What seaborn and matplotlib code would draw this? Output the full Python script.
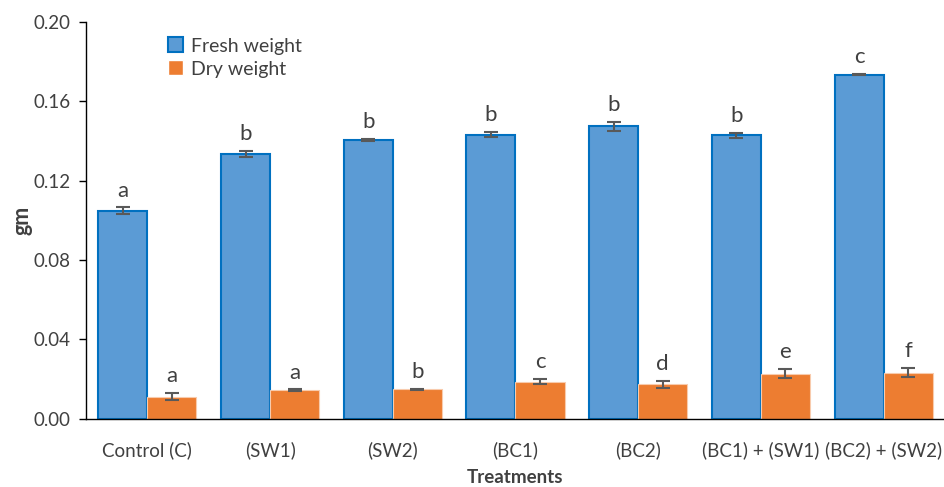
import matplotlib
matplotlib.use("Agg")
import matplotlib.pyplot as plt
import seaborn as sns
import pandas as pd

treatments = ["Control (C)", "(SW1)", "(SW2)", "(BC1)", "(BC2)", "(BC1) + (SW1)", "(BC2) + (SW2)"]
fresh = [0.1049, 0.1335, 0.1406, 0.1432, 0.1473, 0.1429, 0.1735]
fresh_err = [0.0016, 0.0015, 0.0004, 0.0012, 0.0022, 0.0013, 0.0004]
fresh_letters = ["a", "b", "b", "b", "b", "b", "c"]
dry = [0.0112, 0.0143, 0.0149, 0.0188, 0.0173, 0.0228, 0.0233]
dry_err = [0.0016, 0.0005, 0.0003, 0.0013, 0.0016, 0.0024, 0.0022]
dry_letters = ["a", "a", "b", "c", "d", "e", "f"]

df = pd.DataFrame({
    "Treatments": treatments * 2,
    "gm": fresh + dry,
    "type": ["Fresh weight"] * 7 + ["Dry weight"] * 7,
})

sns.set_style("white")
plt.rcParams["font.family"] = ["Lato", "DejaVu Sans"]
text_col = "#404040"

fig, ax = plt.subplots(figsize=(9.45, 4.87), dpi=100)
fig.subplots_adjust(left=0.091, right=1.0, top=0.955, bottom=0.14)

sns.barplot(data=df, x="Treatments", y="gm", hue="type",
            palette={"Fresh weight": "#5b9bd5", "Dry weight": "#ed7d31"},
            width=0.8, errorbar=None, ax=ax, saturation=1)

edges = {"Fresh weight": ("#0070c0", 1.5), "Dry weight": ("#f8cbad", 0.8)}
series = [("Fresh weight", fresh, fresh_err, fresh_letters),
          ("Dry weight", dry, dry_err, dry_letters)]
for cont, (name, vals, errs, letters) in zip(ax.containers, series):
    ec, lw = edges[name]
    xs = []
    for bar in cont:
        bar.set_edgecolor(ec)
        bar.set_linewidth(lw)
        xs.append(bar.get_x() + bar.get_width() / 2)
    ax.errorbar(xs, vals, yerr=errs, fmt="none", ecolor="#595959",
                elinewidth=1.5, capsize=5, capthick=1.5)
    for x, v, e, t in zip(xs, vals, errs, letters):
        ax.text(x, v + e + 0.0035, t, ha="center", va="bottom",
                fontsize=16, color=text_col)

ax.set_ylim(0, 0.20)
ax.set_yticks([0, 0.04, 0.08, 0.12, 0.16, 0.20])
ax.set_yticklabels(["0.00", "0.04", "0.08", "0.12", "0.16", "0.20"])
ax.set_xlim(-0.5, 6.5)
ax.tick_params(axis="y", length=5, width=1, color="black", labelsize=13.5,
               labelcolor=text_col, left=True, direction="out", pad=6)
ax.tick_params(axis="x", length=0, labelsize=13.5, labelcolor=text_col, pad=16)
ax.set_xlabel("Treatments", fontsize=13.5, fontweight="bold", color=text_col)
ax.set_ylabel("gm", fontsize=15.5, fontweight="bold", color=text_col)
ax.xaxis.set_label_coords(0.5, -0.148)
ax.yaxis.set_label_coords(-0.075, 0.5)
ax.xaxis.label.set_va("center")
ax.yaxis.label.set_va("center")

sns.despine(ax=ax)
ax.spines["left"].set_color("black")
ax.spines["bottom"].set_color("black")
ax.spines["left"].set_linewidth(1)
ax.spines["bottom"].set_linewidth(1)

leg = ax.legend(loc="upper left", bbox_to_anchor=(0.075, 1.005), frameon=False,
                fontsize=14, handlelength=0.8, handleheight=0.8,
                handletextpad=0.4, labelspacing=0.3, labelcolor=text_col)
leg.legend_handles[0].set_edgecolor("#0070c0")
leg.legend_handles[0].set_linewidth(1.5)

fig.savefig("out.png", dpi=100)
